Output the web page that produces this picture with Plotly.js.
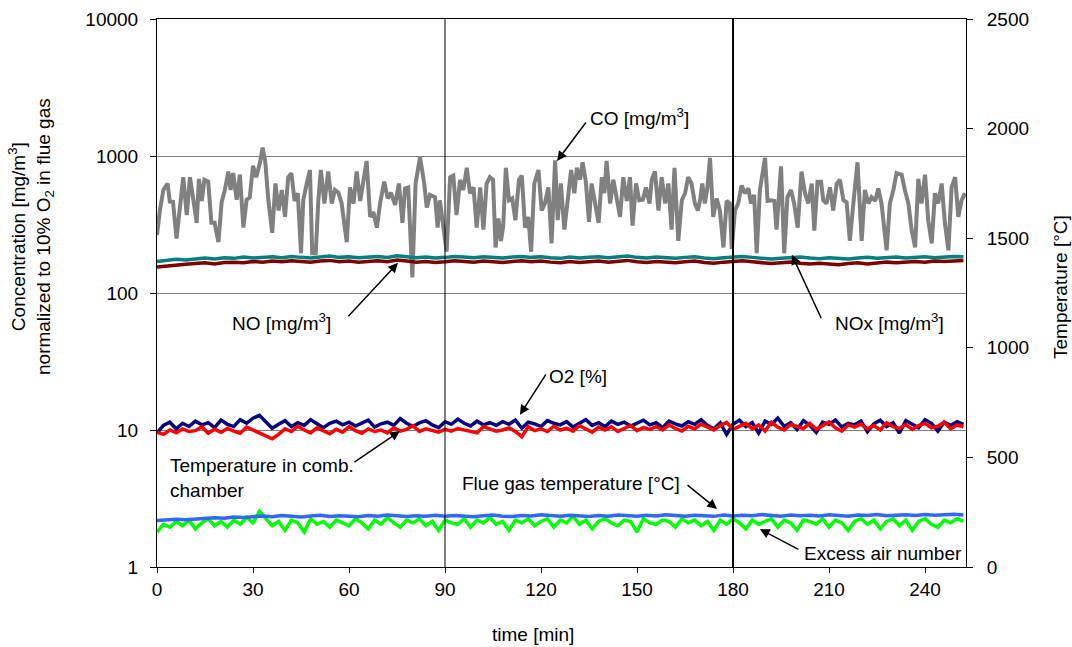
<!DOCTYPE html>
<html>
<head>
<meta charset="utf-8">
<script src="https://cdn.plot.ly/plotly-3.0.1.min.js"></script>
<style>html,body{margin:0;padding:0;background:#fff;}#chart{width:1072px;height:647px;}</style>
</head>
<body>
<div id="chart"></div>
<script>
// ---- data ----
const coTime = [0,0.9,2,3.3,4,5,6.1,7.2,8.2,9.3,10.3,11.3,12.4,13.1,14,14.8,16,17,18,19.2,20.2,21.2,22.3,23,23.8,24.9,25.9,27,28,29,30,31,32.2,33,33.8,34.8,36,37,38,39,40,41,42,43,44,45,45.7,46.8,47.8,48.5,49.6,50.4,51.2,52.3,53.5,54.6,55.6,56.7,57.7,59.3,60.3,61.4,62.4,63.5,64.5,65.5,66.6,67.6,68.7,69.7,71,72.1,73.1,74.4,75.6,76.7,77.5,78.5,79.8,80.8,82.2,83.5,84.3,85.3,86.9,87.7,88.4,89.5,90.5,91.6,92.6,93.6,94.7,95.7,96.8,97.8,98.9,99.9,101,102,103,104,105,105.8,106.7,107.5,108.2,109,110,111,112,113.1,114,115,116,116.9,117.9,119.2,120.2,121.2,122.3,123.3,124.4,125.2,126.2,127.3,128.3,129.4,130.4,131.2,132.2,133,134,135,135.8,136.9,138,139,139.8,140.5,141.6,142.6,143.6,144.7,145.7,146.8,147.8,148.6,149.7,150.7,151.8,152.8,153.9,154.6,155.6,156.7,157.7,158.8,159.8,160.8,161.7,162.9,164,165,166,167,168.1,169,169.7,170.4,171.2,172,172.8,173.8,174.9,175.9,177,178,179,179.6,180.6,181.6,182.7,183.7,184.8,185.6,186.6,187.4,188.4,189.1,190,190.8,191.9,192.9,193.6,195,196,197,198.1,199.1,200.2,201.4,202.5,203.5,204.6,205.4,206.4,207.5,208.2,209.2,210.3,211.3,212.4,213.4,214.5,215.5,216.5,217.6,218.9,220.2,221.2,222.3,223.3,224.4,225.4,226.4,227.3,228,229,230.1,231.1,232.7,233.7,234.8,235.8,236.9,237.9,238.9,240,241,242.1,243.1,244.1,245.2,246.2,247.3,248.3,249.4,250.4,251.4,252.5];
const coVals = [265,400,565,630,465,463,250,420,700,370,700,490,325,680,470,670,650,325,325,235,460,565,770,565,750,480,730,300,480,500,850,700,900,1150,920,475,275,630,400,565,360,700,750,470,535,195,475,630,790,195,195,470,790,450,770,450,565,540,450,235,590,450,770,470,680,920,360,390,300,450,650,490,540,440,630,325,580,590,130,630,980,630,420,520,500,300,475,310,200,700,720,370,670,565,820,535,590,300,590,290,630,700,670,215,350,240,310,820,475,490,340,670,720,300,360,200,630,790,400,450,590,230,930,340,630,290,475,790,535,820,670,900,650,330,630,450,325,700,535,920,450,670,500,360,700,470,700,310,630,475,480,590,450,670,770,400,700,450,630,290,820,240,475,535,700,630,450,400,475,630,450,590,970,360,490,400,215,470,450,210,400,450,610,535,580,450,520,195,565,750,970,470,475,470,290,840,195,500,565,450,300,770,535,450,630,285,650,650,475,450,590,400,630,670,475,460,240,450,900,240,565,450,500,470,580,450,300,205,450,565,750,730,565,450,290,215,680,450,730,340,230,535,450,630,325,205,590,700,360,475,535];

// every 3 min
const noxVals = [170,173,176,174,178,180,177,181,179,183,180,182,184,181,185,182,180,183,186,182,184,181,183,185,182,187,184,181,183,180,182,185,183,181,184,182,180,183,185,182,184,181,179,183,180,182,184,181,183,186,182,180,183,181,179,182,184,180,178,181,183,185,182,180,177,179,181,183,180,178,181,179,177,180,182,179,181,183,180,182,184,181,183,185,184];
const noVals  = [155,158,160,162,164,166,163,167,168,166,170,168,171,169,172,170,168,171,173,169,171,168,170,172,169,174,171,168,170,167,169,172,170,168,171,169,167,170,172,169,171,168,166,170,167,169,171,168,170,173,169,167,170,168,166,169,171,167,165,168,170,172,169,166,164,166,168,165,163,165,163,161,164,166,163,165,168,166,169,170,168,171,170,172,173];
const flueTempVals = [212,215,218,216,220,223,225,222,228,226,230,233,229,235,231,228,233,236,230,234,231,229,235,232,237,233,230,234,232,236,231,235,233,229,234,237,232,230,235,233,238,234,231,236,233,230,235,232,237,234,231,236,233,238,235,232,236,234,231,237,233,236,234,239,235,232,237,234,236,233,238,235,232,237,235,239,234,236,238,235,240,236,238,241,237];

// every 2 min
const o2Vals = [9.5,10.8,11.4,10.2,11.2,10.6,11.6,10.9,11.3,10.4,11.8,11.0,10.6,11.9,11.2,12.2,12.8,11.4,10.3,11.0,11.7,10.6,11.3,10.8,11.9,11.1,10.4,11.2,11.6,10.9,11.4,10.7,11.2,11.8,10.5,11.1,11.4,10.8,12.1,11.2,10.6,11.3,11.7,10.9,10.4,11.5,11.0,12.0,11.2,10.7,11.6,10.9,11.3,10.8,11.5,11.0,11.8,10.3,11.4,11.1,10.6,11.7,11.2,10.9,11.5,10.5,11.2,11.9,10.8,11.3,10.6,11.6,11.0,11.4,10.7,11.2,11.8,10.9,11.3,10.4,11.6,11.1,10.7,11.5,11.0,11.9,10.8,10.2,11.3,9.3,11.0,11.8,10.6,11.3,9.5,11.6,11.0,12.2,10.6,11.3,10.1,11.7,10.8,9.6,11.4,11.0,11.8,10.5,11.2,10.9,11.6,9.7,11.1,11.8,10.6,11.3,9.5,11.7,11.0,10.4,11.9,11.2,9.8,11.4,10.8,11.5,11.0];
const combTempVals = [615,605,625,612,630,618,622,640,610,628,615,632,620,610,638,625,612,598,585,605,630,618,642,625,612,635,620,608,628,615,640,622,610,630,618,625,612,635,620,628,645,618,630,622,615,628,620,632,625,618,612,640,628,620,625,635,618,595,640,622,630,618,642,625,633,620,645,628,615,638,625,640,618,632,645,622,636,628,640,625,648,632,620,642,630,652,638,625,645,660,628,642,655,630,648,620,660,638,625,650,640,632,655,628,645,662,635,620,648,638,652,630,645,625,658,640,632,650,628,645,655,635,642,660,630,648,640];
const excessAirVals = [1.80,2.05,1.95,2.15,2.00,2.20,1.90,2.10,2.25,2.00,2.15,1.95,2.20,2.05,2.30,2.10,2.55,2.25,2.00,2.15,1.85,2.20,2.10,1.80,2.25,2.05,2.15,1.95,2.20,2.10,2.00,2.25,2.10,1.90,2.20,2.05,2.30,2.10,1.95,2.20,2.10,2.25,2.00,2.15,1.85,2.20,2.10,2.05,2.25,1.95,2.20,2.10,2.30,2.05,2.15,1.85,2.20,2.10,2.25,2.00,2.15,2.25,1.95,2.20,2.10,2.35,2.05,2.20,1.90,2.15,2.25,2.10,2.00,2.20,2.15,1.80,2.25,2.10,2.05,2.20,2.15,1.95,2.25,2.10,2.20,2.00,2.15,1.85,2.20,2.05,2.25,2.10,1.90,2.20,2.05,2.15,2.25,1.95,2.20,2.10,1.85,2.20,2.15,2.05,2.25,1.95,2.20,2.10,1.85,2.15,2.25,2.05,2.20,1.90,2.15,2.25,2.00,2.20,1.85,2.15,2.25,2.05,1.95,2.20,2.10,2.25,2.15];

const step2 = 2, step3 = 3;
const xTicks = [0,30,60,90,120,150,180,210,240];
const phaseMarks = [90,180];
const leftTicks = [1,10,100,1000,10000];
const rightTicks = [0,500,1000,1500,2000,2500];

// label arrow targets: [time, value, axis]
const arrowTargets = {
  co: [125, 920, 'y'],
  no: [75.3, 166, 'y'],
  nox: [198.4, 190, 'y'],
  o2: [113.4, 12.9, 'y'],
  comb: [75.9, 620, 'y2'],
  flue: [175, 265, 'y2'],
  excess: [188.4, 1.89, 'y']
};

const t2 = o2Vals.map((_, i) => i * step2);
const t3 = noxVals.map((_, i) => i * step3);

const FONT = 'Liberation Sans, Arial, sans-serif';

const traces = [
  {x: coTime, y: coVals, name: 'CO', mode: 'lines', line: {color: '#808080', width: 4}},
  {x: t3, y: noxVals, name: 'NOx', mode: 'lines', line: {color: '#008080', width: 3.5}},
  {x: t3, y: noVals, name: 'NO', mode: 'lines', line: {color: '#800000', width: 3.5}},
  {x: t2, y: o2Vals, name: 'O2', mode: 'lines', line: {color: '#000080', width: 3.5}},
  {x: t2, y: combTempVals, name: 'Temp comb', mode: 'lines', yaxis: 'y2', line: {color: '#FF0000', width: 3.5}},
  {x: t2, y: excessAirVals, name: 'Excess air', mode: 'lines', line: {color: '#00FF00', width: 3.5}},
  {x: t3, y: flueTempVals, name: 'Flue gas', mode: 'lines', yaxis: 'y2', line: {color: '#3366FF', width: 3.5}}
];

const L = 157, R = 966, T = 19, B = 567;
const px = v => (v - L) / (R - L);
const py = v => (B - v) / (B - T);

function txt(text, x, y, extra) {
  return Object.assign({text: text, xref: 'paper', yref: 'paper', x: px(x), y: py(y),
    xanchor: 'center', yanchor: 'middle',
    showarrow: false, font: {family: FONT, size: 19, color: '#000'}}, extra || {});
}
function arrow(target, ax, ay) {
  const isLog = target[2] === 'y';
  return {text: '', x: target[0], y: isLog ? Math.log10(target[1]) : target[1],
    xref: 'x', yref: target[2], ax: ax, ay: ay,
    showarrow: true, arrowhead: 2, arrowsize: 1.3, arrowwidth: 1.5, arrowcolor: '#000', standoff: 0};
}

const annotations = [
  txt('CO [mg/m<sup>3</sup>]', 639, 117),
  txt('NO [mg/m<sup>3</sup>]', 281, 322),
  txt('NOx [mg/m<sup>3</sup>]', 889, 322),
  txt('O2 [%]', 578, 376),
  txt('Temperature in comb.<br>chamber', 168, 478, {xanchor: 'left', align: 'left'}),
  txt('Flue gas temperature [°C]', 571, 484),
  txt('Excess air number', 883, 553),
  arrow(arrowTargets.co, 30, -40),
  arrow(arrowTargets.no, -51, 55),
  arrow(arrowTargets.nox, 30, 65),
  arrow(arrowTargets.o2, 27, -42),
  arrow(arrowTargets.comb, -47, 32),
  arrow(arrowTargets.flue, -31, -25),
  arrow(arrowTargets.excess, 40, 21),
  txt('Concentration [mg/m<sup>3</sup>]<br>normalized to 10% O<sub>2</sub> in flue gas', 31, 237, {textangle: -90}),
  txt('Temperature [°C]', 1060, 287, {textangle: -90}),
  txt('time [min]', 533, 634)
];

const shapes = phaseMarks.map((m, i) => ({
  type: 'line', xref: 'x', yref: 'paper', x0: m, x1: m, y0: 0, y1: 1,
  line: {color: '#000', width: i === 0 ? 1 : 2}
}));

const layout = {
  width: 1072, height: 647,
  margin: {l: L, r: 1072 - R, t: T, b: 647 - B, pad: 0},
  paper_bgcolor: '#fff', plot_bgcolor: '#fff',
  showlegend: false,
  font: {family: FONT, size: 19, color: '#000'},
  xaxis: {range: [0, 252.8], tickvals: xTicks, ticks: 'outside', ticklen: 5, tickcolor: '#000',
    showline: true, linecolor: '#000', linewidth: 1, mirror: true, showgrid: false, zeroline: false,
    tickfont: {family: FONT, size: 19}},
  yaxis: {type: 'log', range: [0, 4], tickvals: leftTicks, ticktext: leftTicks.map(String),
    ticks: 'outside', ticklen: 6, tickcolor: '#000', showline: true, linecolor: '#000', linewidth: 1,
    showgrid: true, gridcolor: '#808080', gridwidth: 1, zeroline: false, ticklabelstandoff: 8,
    tickfont: {family: FONT, size: 19}},
  yaxis2: {overlaying: 'y', side: 'right', range: [0, 2500], tickvals: rightTicks,
    ticks: 'outside', ticklen: 6, tickcolor: '#000', showline: true, linecolor: '#000', linewidth: 1,
    showgrid: false, zeroline: false, ticklabelstandoff: 10, tickfont: {family: FONT, size: 19}},
  annotations: annotations,
  shapes: shapes
};

Plotly.newPlot('chart', traces, layout, {staticPlot: true, displayModeBar: false});
</script>
</body>
</html>
